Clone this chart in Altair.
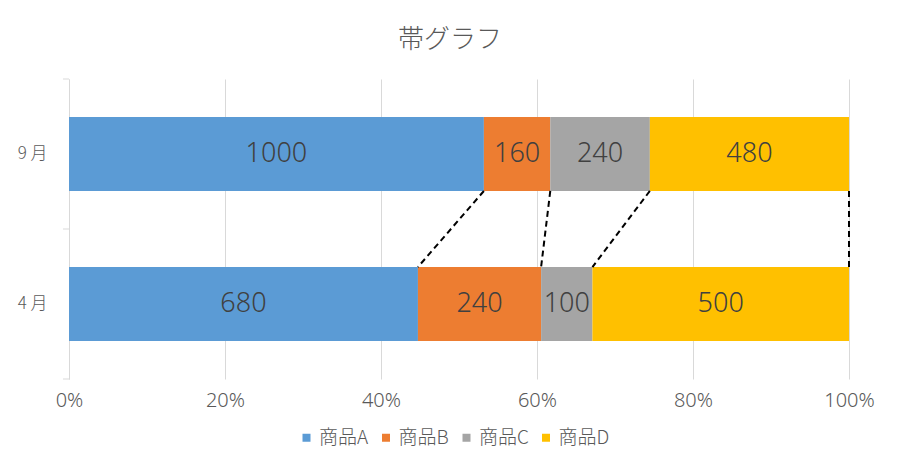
import altair as alt
import pandas as pd

months = ["9 月", "4 月"]
products = ["商品A", "商品B", "商品C", "商品D"]
sep_values = [1000, 160, 240, 480]
apr_values = [680, 240, 100, 500]
colors = ["#5B9BD5", "#ED7D31", "#A5A5A5", "#FFC000"]
x_ticks = [0, 0.2, 0.4, 0.6, 0.8, 1.0]

rows = []
ends = {}
for m, vals in zip(months, [sep_values, apr_values]):
    total = sum(vals)
    cum = 0
    ends[m] = []
    for p, v in zip(products, vals):
        s = cum / total
        cum += v
        e = cum / total
        ends[m].append(e)
        rows.append({"month": m, "product": p, "value": v, "start": s, "end": e, "mid": (s + e) / 2})
df = pd.DataFrame(rows)
lines = pd.DataFrame({"product": products, "top_end": ends[months[0]], "bot_end": ends[months[1]]})
bounds = pd.DataFrame({"b": list(range(len(months) + 1))})

P_IN = 0.507
P_OUT = P_IN / 2
FONT = "Noto Sans CJK JP"
NUMFONT = "Noto Sans"

xscale = alt.Scale(domain=[0, 1])
yscale = alt.Scale(domain=months, paddingInner=P_IN, paddingOuter=P_OUT)
yq = alt.Scale(domain=[0, len(months)])

bars = alt.Chart(df).mark_bar().encode(
    x=alt.X("start:Q", scale=xscale,
            axis=alt.Axis(values=x_ticks, format="%", grid=True,
                          gridColor="#d9d9d9", domain=False, ticks=False, labelFlush=False,
                          labelFontSize=20, labelColor="#595959", labelFont=NUMFONT,
                          labelFontWeight=300, labelPadding=11, title=None)),
    x2="end:Q",
    y=alt.Y("month:N", scale=yscale, sort=months,
            axis=alt.Axis(title=None, domainColor="#d9d9d9", ticks=False,
                          labelPadding=22, labelFontSize=17, labelColor="#595959",
                          labelFont=FONT, labelFontWeight=300, grid=False)),
    color=alt.Color("product:N", scale=alt.Scale(domain=products, range=colors),
                    legend=alt.Legend(title=None, orient="none", direction="horizontal",
                                      legendX=228, legendY=349, symbolType="square",
                                      symbolSize=64, symbolStrokeWidth=0,
                                      labelFontSize=19, labelFont=FONT, labelColor="#595959",
                                      labelFontWeight=300, labelOffset=3, columnPadding=7.5)),
    order=alt.Order("start:Q"),
)

text = alt.Chart(df).mark_text(fontSize=27, font=NUMFONT, fontWeight=300, color="#404040").encode(
    x=alt.X("mid:Q", scale=xscale),
    y=alt.Y("month:N", scale=yscale, sort=months),
    text="value:Q",
)

bars_layer = alt.layer(bars, text)

rules = alt.Chart(lines).mark_rule(color="black", strokeWidth=2, strokeDash=[6, 4]).encode(
    x=alt.X("top_end:Q", scale=xscale),
    x2="bot_end:Q",
    y=alt.Y(datum=1 + P_IN / 2, scale=yq, axis=None),
    y2=alt.Y2(datum=1 - P_IN / 2),
)

ticks = alt.Chart(bounds).mark_rule(color="#d9d9d9", strokeWidth=1).encode(
    x=alt.value(-6), x2=alt.value(0),
    y=alt.Y("b:Q", scale=yq, axis=None),
)

chart = alt.layer(bars_layer, rules, ticks).resolve_scale(y="independent").properties(
    width=780, height=300,
    title=alt.Title("帯グラフ", font=FONT, fontSize=26, fontWeight=300,
                    color="#595959", anchor="middle", dx=-9, offset=26),
    autosize=alt.AutoSizeParams(type="none"),
    padding={"left": 69, "top": 79, "right": 52, "bottom": 88},
).configure_view(stroke=None)

chart.save("out.html", embed_options={"renderer": "svg", "actions": False})
